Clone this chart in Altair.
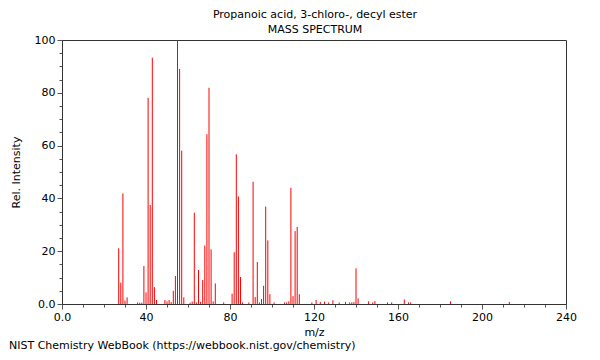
import altair as alt
import pandas as pd

# m/z values and relative intensities
mz = [27, 28, 29, 30, 31,
      36, 37, 38, 39, 40, 41, 42, 43, 44, 45,
      49, 50, 51, 52, 53, 54, 55, 56, 57, 58,
      61, 62, 63, 64, 65, 66, 67, 68, 69, 70, 71, 72, 73,
      77,
      81, 82, 83, 84, 85, 86,
      89, 91, 92, 93, 94, 95, 96, 97, 98, 99,
      101, 106, 107, 108, 109, 110, 111, 112, 113,
      119, 121, 123, 125, 127, 129, 132, 135, 137, 138, 139, 140, 141,
      146, 148, 149, 155, 157, 163, 165, 166, 185, 213]
intensity = [21.1, 8.1, 41.9, 1.3, 2.5,
             0.6, 0.5, 0.5, 14.4, 4.4, 78.1, 37.5, 93.3, 6.4, 1.5,
             1.5, 1.0, 1.5, 0.7, 5.0, 10.6, 100.0, 89.0, 58.1, 2.5,
             0.5, 0.9, 34.6, 0.6, 12.9, 0.8, 9.1, 22.1, 64.3, 81.9, 20.7, 1.0, 7.8,
             0.6,
             3.9, 19.6, 56.7, 40.7, 10.2, 0.6,
             0.6, 46.3, 2.6, 15.9, 0.6, 1.9, 6.9, 36.9, 24.1, 3.7,
             0.6, 0.6, 0.6, 1.0, 44.0, 3.0, 27.6, 29.2, 3.7,
             0.6, 1.5, 0.8, 0.9, 0.6, 1.4, 0.6, 0.8, 0.6, 0.6, 0.7, 13.5, 2.1,
             1.0, 0.6, 1.1, 0.6, 0.6, 1.7, 0.6, 0.6, 1.0, 0.8]

x_ticks = list(range(0, 241, 10))
y_ticks = list(range(0, 101, 5))

title_lines = ["Propanoic acid, 3-chloro-, decyl ester", "MASS SPECTRUM"]
footer = "NIST Chemistry WebBook (https://webbook.nist.gov/chemistry)"

FONT = "DejaVu Sans"
W, H = 504, 264

df = pd.DataFrame({"mz": mz, "intensity": intensity})

peaks = alt.Chart(df).mark_rule(color="#ff0000", strokeWidth=1).encode(
    x=alt.X("mz:Q",
            scale=alt.Scale(domain=[0, 240], nice=False, zero=False),
            axis=alt.Axis(
                title="m/z", values=x_ticks,
                labelExpr="datum.value % 40 === 0 ? (datum.value === 0 ? '0.0' : datum.label) : ''",
                tickSize={"condition": {"test": "datum.value % 40 === 0", "value": 5}, "value": 3},
                labelOverlap=False, labelFlush=False, labelPadding=2,
                grid=False)),
    y=alt.Y("intensity:Q",
            scale=alt.Scale(domain=[0, 100], nice=False),
            axis=alt.Axis(
                title="Rel. Intensity", values=y_ticks,
                labelExpr="datum.value % 20 === 0 ? (datum.value === 0 ? '0.0' : datum.label) : ''",
                tickSize={"condition": {"test": "datum.value % 20 === 0", "value": 5}, "value": 3},
                labelOverlap=False, labelPadding=2, titlePadding=13,
                grid=False)),
    y2=alt.datum(0),
)

t1 = alt.Chart(pd.DataFrame({"t": [title_lines[0]]})).mark_text(
    font=FONT, fontSize=11, color="black", align="center", baseline="middle"
).encode(text="t:N", x=alt.value(253), y=alt.value(-25))

t2 = alt.Chart(pd.DataFrame({"t": [title_lines[1]]})).mark_text(
    font=FONT, fontSize=11, color="black", align="center", baseline="middle"
).encode(text="t:N", x=alt.value(253), y=alt.value(-10))

foot = alt.Chart(pd.DataFrame({"t": [footer]})).mark_text(
    font=FONT, fontSize=11, color="black", align="left", baseline="middle"
).encode(text="t:N", x=alt.value(-53), y=alt.value(306))

chart = alt.layer(peaks, t1, t2, foot).properties(
    width=W, height=H,
    autosize=alt.AutoSizeParams(type="none"),
    padding={"left": 54, "top": 32, "right": 26, "bottom": 48},
    background="white",
).configure_view(
    stroke="#333333", strokeWidth=1
).configure_axis(
    labelFont=FONT, titleFont=FONT, labelFontSize=11, titleFontSize=11,
    titleFontWeight="normal", labelColor="black", titleColor="black",
    domainColor="#333333", tickColor="#555555",
)

chart.save("out.html", embed_options={"renderer": "svg", "actions": False})
